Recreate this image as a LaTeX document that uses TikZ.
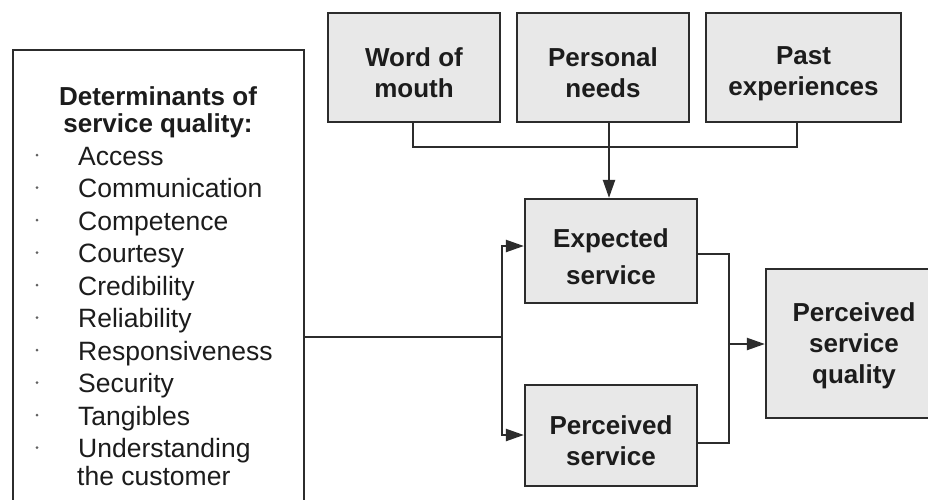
\documentclass[tikz,border=0pt]{standalone}
\usepackage{fontspec}
\setmainfont{Liberation Sans}
\usetikzlibrary{arrows.meta}
\definecolor{edge}{HTML}{2C2C2C}
\definecolor{boxfill}{HTML}{E8E8E8}
\definecolor{ink}{HTML}{1C1C1C}
% line struts that set where the text block sits inside a box
\newcommand{\twoline}{\rule{0pt}{30pt}}
\newcommand{\threeline}{\rule[-5pt]{0pt}{29pt}}
\begin{document}
\begin{tikzpicture}[x=1pt,y=1pt,
  box/.style={draw=edge, line width=2.2pt, fill=boxfill, inner sep=0pt, align=center,
    text=ink, font=\fontsize{26}{31}\selectfont\bfseries},
  link/.style={draw=edge, line width=2.2pt},
  arr/.style={link, -{Triangle[length=18pt,width=12pt]}},
  headline/.style={anchor=base, inner sep=0pt, text=ink, font=\fontsize{26}{31}\selectfont\bfseries},
  item/.style={anchor=base west, inner sep=0pt, text=ink, font=\fontsize{26.5}{31}\selectfont},
  bullet/.style={circle, fill=edge!75, inner sep=0pt, minimum size=3pt}
]
\useasboundingbox (0,0) rectangle (928,-499);
\clip (0,0) rectangle (928,-499);
\fill[white] (0,0) rectangle (928,-499);

% antecedents of expectations
\node[box, minimum width=172, minimum height=109] (wom) at (414,-67.5) {\twoline Word of\\\twoline mouth};
\node[box, minimum width=172, minimum height=109] (pn)  at (603,-67.5) {\twoline Personal\\\twoline needs};
\node[box, minimum width=195, minimum height=109] (pe)  at (803.5,-67.5) {\twoline Past\\\twoline experiences};

% expected / perceived service and the resulting quality
\node[box, minimum width=172, minimum height=104] (es)  at (611,-251) {\twoline Expected\\\twoline service};
\node[box, minimum width=172, minimum height=101] (ps)  at (611,-435.5) {\twoline Perceived\\\twoline service};
\node[box, minimum width=176, minimum height=149] (psq) at (854,-343.5)
  {\threeline Perceived\\\threeline service\\\threeline quality};

% determinants panel (runs off the lower edge)
\node[draw=edge, line width=2.2pt, fill=white, minimum width=291, minimum height=490,
      anchor=north west, inner sep=0pt] (det) at (12,-49) {};
\node[headline] (head1) at (158,-105) {Determinants of};
\node[headline] (head2) at (158,-132) {service quality:};
\foreach \t [count=\i] in {Access,Communication,Competence,Courtesy,Credibility,
    Reliability,Responsiveness,Security,Tangibles,Understanding}{
  \pgfmathsetmacro{\yb}{-165-32.5*(\i-1)}
  \node[item] (item\i) at (78,\yb) {\t};
  \node[bullet] (dot\i) at (37,\yb+10) {};
}
\node[item] (item11) at (77,-485) {the customer};

% connectors
\coordinate (wjoin) at (413,-147);
\coordinate (ejoin) at (797,-147);
\coordinate (ndrop) at (609,-147);
\draw[link] (wom.south -| wjoin) -- (wjoin) -- (ejoin) -- (pe.south -| ejoin);
\draw[arr] (pn.south -| ndrop) -- (es.north -| ndrop);

\coordinate (lsplit) at (502,-337);
\coordinate (ltop) at (502,-246);
\coordinate (lbot) at (502,-435);
\draw[link] (det.east |- lsplit) -- (lsplit);
\draw[arr] (lsplit) -- (ltop) -- (es.west |- ltop);
\draw[arr] (lsplit) -- (lbot) -- (ps.west |- lbot);

\coordinate (rtop) at (729,-254);
\coordinate (rbot) at (729,-443);
\coordinate (rmid) at (729,-344);
\draw[link] (es.east |- rtop) -- (rtop) -- (rbot) -- (ps.east |- rbot);
\draw[arr] (rmid) -- (psq.west |- rmid);
\end{tikzpicture}
\end{document}
